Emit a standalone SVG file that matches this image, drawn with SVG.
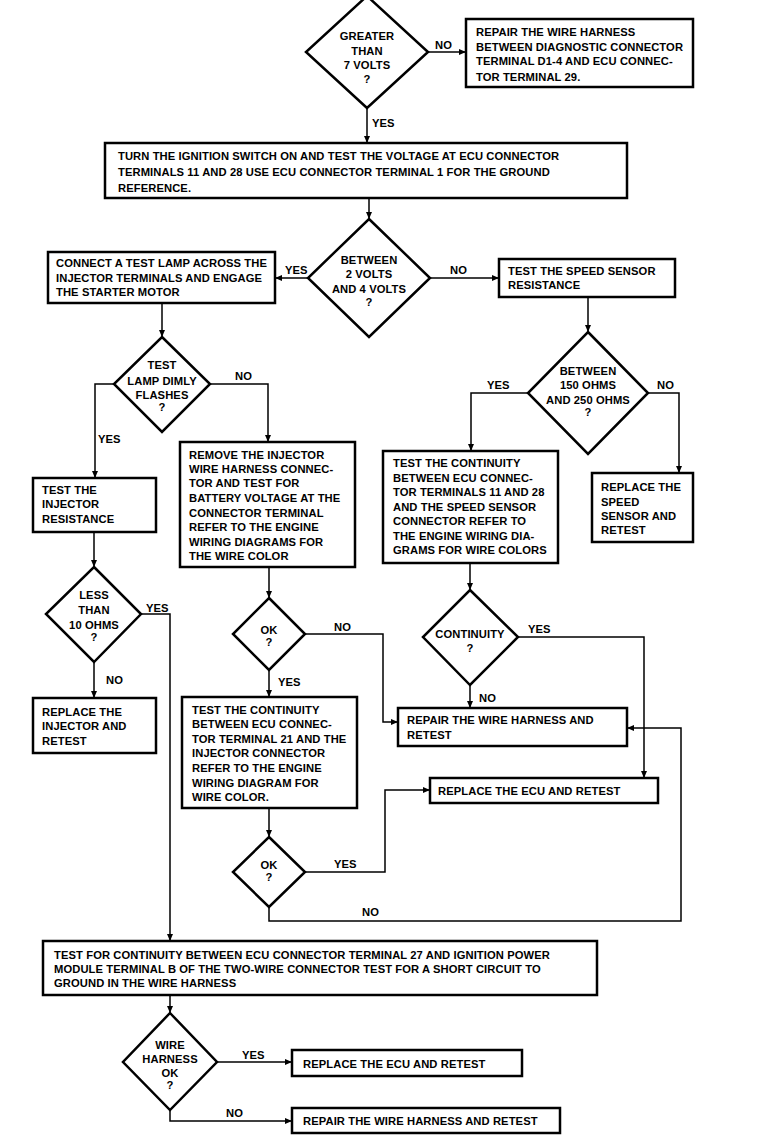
<svg xmlns="http://www.w3.org/2000/svg" width="766" height="1139" viewBox="0 0 766 1139">
<style>
.box{fill:#fff;stroke:#000;stroke-width:2.5}
.dia{fill:#fff;stroke:#000;stroke-width:2.5;stroke-linejoin:miter}
.c{fill:none;stroke:#000;stroke-width:1.5}
.ca{fill:none;stroke:#000;stroke-width:1.5;marker-end:url(#arr)}
text{font-family:"Liberation Sans",Arial,sans-serif;font-size:11.2px;letter-spacing:0.1px;font-weight:bold;fill:#000}
.m{text-anchor:middle}
</style>
<defs>
<marker id="arr" markerWidth="8" markerHeight="8" refX="7" refY="4" orient="auto" markerUnits="userSpaceOnUse"><path d="M0,1 L7,4 L0,7 z" fill="#000"/></marker>
</defs>
<rect width="766" height="1139" fill="#fff"/>
<g id="connectors">
<path class="ca" d="M367,108 V143"/>
<path class="ca" d="M428,52 H466"/>
<path class="ca" d="M369,198 V219"/>
<path class="ca" d="M308,278 H275"/>
<path class="ca" d="M430,278 H499"/>
<path class="ca" d="M588,297 V332"/>
<path class="ca" d="M528,393 H471 V451"/>
<path class="ca" d="M648,393 H679 V473"/>
<path class="ca" d="M162,303 V337"/>
<path class="ca" d="M114,384 H95 V478"/>
<path class="ca" d="M210,384 H268 V442"/>
<path class="ca" d="M94,532 V567"/>
<path class="ca" d="M141,614 H170 V941"/>
<path class="ca" d="M94,662 V698"/>
<path class="ca" d="M269,567 V598"/>
<path class="ca" d="M305,634 H383 V722 H398"/>
<path class="ca" d="M269,670 V697"/>
<path class="ca" d="M470,563 V590"/>
<path class="ca" d="M470,685 V708"/>
<path class="ca" d="M518,637 H644 V778"/>
<path class="ca" d="M269,808 V837"/>
<path class="ca" d="M305,872 H385 V790 H430"/>
<path class="ca" d="M269,907 V921 H681 V728 H627"/>
<path class="ca" d="M170,995 V1013"/>
<path class="ca" d="M217,1062 H292"/>
<path class="ca" d="M170,1110 V1121 H292"/>
<text x="435" y="49">NO</text>
<text x="372" y="127">YES</text>
<text x="285" y="274">YES</text>
<text x="450" y="274">NO</text>
<text x="487" y="389">YES</text>
<text x="657" y="389">NO</text>
<text x="98" y="443">YES</text>
<text x="235" y="380">NO</text>
<text x="146" y="612">YES</text>
<text x="106" y="684">NO</text>
<text x="334" y="631">NO</text>
<text x="278" y="686">YES</text>
<text x="528" y="633">YES</text>
<text x="479" y="702">NO</text>
<text x="334" y="868">YES</text>
<text x="362" y="916">NO</text>
<text x="242" y="1059">YES</text>
<text x="226" y="1117">NO</text>
</g>
<g id="d1"><polygon class="dia" points="367,-4 428,52 367,108 306,52"/>
<text class="m" x="367" y="40">GREATER</text><text class="m" x="367" y="55">THAN</text><text class="m" x="367" y="69">7 VOLTS</text><text class="m" x="367" y="83">?</text></g>
<g id="b1"><rect class="box" x="466" y="19" width="227" height="68"/>
<text x="476" y="36">REPAIR THE WIRE HARNESS</text><text x="476" y="51">BETWEEN DIAGNOSTIC CONNECTOR</text><text x="476" y="65">TERMINAL D1-4 AND ECU CONNEC-</text><text x="476" y="81">TOR TERMINAL 29.</text></g>
<g id="b2"><rect class="box" x="105" y="143" width="522" height="55"/>
<text x="118" y="160">TURN THE IGNITION SWITCH ON AND TEST THE VOLTAGE AT ECU CONNECTOR</text><text x="118" y="176">TERMINALS 11 AND 28  USE ECU CONNECTOR TERMINAL 1 FOR THE GROUND</text><text x="118" y="192">REFERENCE.</text></g>
<g id="d2"><polygon class="dia" points="369,219 430,278 369,337 308,278"/>
<text class="m" x="369" y="264">BETWEEN</text><text class="m" x="369" y="278">2 VOLTS</text><text class="m" x="369" y="293">AND 4 VOLTS</text><text class="m" x="369" y="306">?</text></g>
<g id="b3"><rect class="box" x="48" y="252" width="227" height="51"/>
<text x="56" y="267">CONNECT A TEST LAMP ACROSS THE</text><text x="56" y="282">INJECTOR TERMINALS AND ENGAGE</text><text x="56" y="296">THE STARTER MOTOR</text></g>
<g id="b4"><rect class="box" x="499" y="259" width="176" height="38"/>
<text x="508" y="275">TEST THE SPEED SENSOR</text><text x="508" y="289">RESISTANCE</text></g>
<g id="d5"><polygon class="dia" points="588,332 648,393 588,454 528,393"/>
<text class="m" x="588" y="375">BETWEEN</text><text class="m" x="588" y="389">150 OHMS</text><text class="m" x="588" y="404">AND 250 OHMS</text><text class="m" x="588" y="416">?</text></g>
<g id="d3"><polygon class="dia" points="162,337 210,384 162,432 114,384"/>
<text class="m" x="162" y="369">TEST</text><text class="m" x="162" y="385">LAMP DIMLY</text><text class="m" x="162" y="399">FLASHES</text><text class="m" x="162" y="411">?</text></g>
<g id="b5"><rect class="box" x="33" y="478" width="123" height="54"/>
<text x="42" y="494">TEST THE</text><text x="42" y="508">INJECTOR</text><text x="42" y="523">RESISTANCE</text></g>
<g id="b6"><rect class="box" x="180" y="442" width="175" height="125"/>
<text x="189" y="459">REMOVE THE INJECTOR</text><text x="189" y="473">WIRE HARNESS CONNEC-</text><text x="189" y="487">TOR AND TEST FOR</text><text x="189" y="502">BATTERY VOLTAGE AT THE</text><text x="189" y="517">CONNECTOR TERMINAL</text><text x="189" y="531">REFER TO THE ENGINE</text><text x="189" y="546">WIRING DIAGRAMS FOR</text><text x="189" y="560">THE WIRE COLOR</text></g>
<g id="b7"><rect class="box" x="383" y="451" width="175" height="112"/>
<text x="393" y="467">TEST THE CONTINUITY</text><text x="393" y="482">BETWEEN ECU CONNEC-</text><text x="393" y="496">TOR TERMINALS 11 AND 28</text><text x="393" y="511">AND THE SPEED SENSOR</text><text x="393" y="525">CONNECTOR  REFER TO</text><text x="393" y="540">THE ENGINE WIRING DIA-</text><text x="393" y="554">GRAMS FOR WIRE COLORS</text></g>
<g id="b8"><rect class="box" x="592" y="473" width="101" height="69"/>
<text x="601" y="491">REPLACE THE</text><text x="601" y="506">SPEED</text><text x="601" y="520">SENSOR AND</text><text x="601" y="534">RETEST</text></g>
<g id="d4"><polygon class="dia" points="94,567 141,614 94,662 46,614"/>
<text class="m" x="94" y="599">LESS</text><text class="m" x="94" y="614">THAN</text><text class="m" x="94" y="629">10 OHMS</text><text class="m" x="94" y="641">?</text></g>
<g id="b9"><rect class="box" x="33" y="698" width="123" height="55"/>
<text x="42" y="716">REPLACE THE</text><text x="42" y="730">INJECTOR AND</text><text x="42" y="745">RETEST</text></g>
<g id="d6"><polygon class="dia" points="269,598 305,634 269,670 233,634"/>
<text class="m" x="269" y="634">OK</text><text class="m" x="269" y="646">?</text></g>
<g id="d7"><polygon class="dia" points="470,590 518,637 470,685 423,637"/>
<text class="m" x="470" y="638">CONTINUITY</text><text class="m" x="470" y="652">?</text></g>
<g id="b10"><rect class="box" x="182" y="697" width="175" height="111"/>
<text x="192" y="714">TEST THE CONTINUITY</text><text x="192" y="728">BETWEEN ECU CONNEC-</text><text x="192" y="743">TOR TERMINAL 21 AND THE</text><text x="192" y="757">INJECTOR CONNECTOR</text><text x="192" y="772">REFER TO THE ENGINE</text><text x="192" y="787">WIRING DIAGRAM FOR</text><text x="192" y="801">WIRE COLOR.</text></g>
<g id="b11"><rect class="box" x="398" y="708" width="229" height="38"/>
<text x="407" y="724">REPAIR THE WIRE HARNESS AND</text><text x="407" y="739">RETEST</text></g>
<g id="b12"><rect class="box" x="430" y="778" width="228" height="25"/>
<text x="438" y="795">REPLACE THE ECU AND RETEST</text></g>
<g id="d8"><polygon class="dia" points="269,837 305,872 269,907 233,872"/>
<text class="m" x="269" y="869">OK</text><text class="m" x="269" y="881">?</text></g>
<g id="b13"><rect class="box" x="43" y="941" width="554" height="54"/>
<text x="54" y="959">TEST FOR CONTINUITY BETWEEN ECU CONNECTOR TERMINAL 27 AND IGNITION POWER</text><text x="54" y="973">MODULE TERMINAL B OF THE TWO-WIRE CONNECTOR  TEST FOR A SHORT CIRCUIT TO</text><text x="54" y="987">GROUND IN THE WIRE HARNESS</text></g>
<g id="d9"><polygon class="dia" points="170,1013 217,1062 170,1110 123,1062"/>
<text class="m" x="170" y="1049">WIRE</text><text class="m" x="170" y="1063">HARNESS</text><text class="m" x="170" y="1077">OK</text><text class="m" x="170" y="1089">?</text></g>
<g id="b14"><rect class="box" x="292" y="1050" width="230" height="26"/>
<text x="303" y="1068">REPLACE THE ECU AND RETEST</text></g>
<g id="b15"><rect class="box" x="292" y="1108" width="268" height="25"/>
<text x="303" y="1125">REPAIR THE WIRE HARNESS AND RETEST</text></g>
</svg>
